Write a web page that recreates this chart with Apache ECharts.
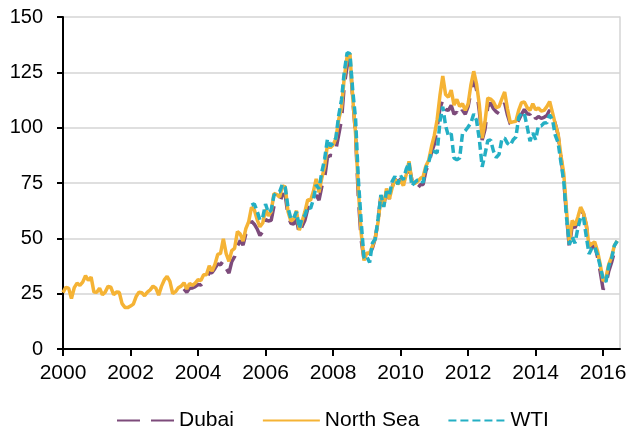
<!DOCTYPE html>
<html>
<head>
<meta charset="utf-8">
<script src="https://cdn.jsdelivr.net/npm/echarts@6/dist/echarts.min.js"></script>
<style>html,body{margin:0;padding:0;background:#fff}#c{width:640px;height:438px}</style>
</head>
<body>
<div id="c"></div>
<script>
// Monthly averages, US$ per barrel
var seriesNames = ['Dubai', 'North Sea', 'WTI'];
var yTicks = [0, 25, 50, 75, 100, 125, 150];
var xTickYears = [2000, 2002, 2004, 2006, 2008, 2010, 2012, 2014, 2016];

// North Sea: Jan 2000 – Jun 2016
var northSeaStart = [2000, 1];
var northSea = [
  25.5, 27.8, 27.5, 22.8, 27.7, 29.8, 28.7, 30.2, 33.1, 31.0, 32.5, 25.7,
  25.6, 27.5, 24.5, 25.7, 28.3, 27.9, 24.6, 25.7, 25.6, 20.5, 18.8, 18.7,
  19.4, 20.3, 23.7, 25.7, 25.4, 24.1, 25.7, 26.7, 28.4, 27.5, 24.3, 28.3,
  31.2, 32.8, 30.6, 25.0, 25.9, 27.7, 28.4, 29.9, 27.1, 29.6, 28.8, 29.8,
  31.3, 30.9, 33.6, 33.6, 37.6, 35.2, 38.2, 42.7, 43.2, 49.8, 43.1, 39.6,
  44.5, 45.5, 53.1, 51.9, 48.7, 54.4, 57.5, 64.0, 62.9, 58.5, 55.2, 56.9,
  63.0, 60.2, 62.1, 70.3, 69.8, 68.6, 73.7, 73.2, 62.0, 57.8, 58.8, 62.5,
  53.7, 57.6, 62.1, 67.5, 67.2, 71.1, 76.9, 70.8, 77.2, 82.3, 92.4, 90.9,
  92.2, 95.0, 103.6, 109.1, 122.8, 132.3, 133.5, 113.2, 97.2, 71.6, 52.5, 40.0,
  43.4, 43.3, 46.5, 50.2, 57.3, 68.6, 64.4, 72.5, 67.7, 72.8, 76.7, 74.5,
  76.2, 73.8, 78.8, 84.8, 76.0, 74.8, 75.6, 77.0, 77.8, 82.7, 85.3, 91.5,
  96.5, 103.7, 114.6, 123.3, 115.0, 113.8, 117.0, 110.2, 112.8, 109.6, 110.8, 107.9,
  110.7, 119.3, 125.5, 119.8, 110.3, 95.2, 102.6, 113.4, 112.9, 111.7, 109.1, 109.5,
  113.0, 116.1, 108.5, 102.3, 102.6, 102.9, 107.9, 111.3, 111.6, 109.1, 107.8, 110.8,
  108.1, 108.9, 107.5, 107.8, 109.5, 111.8, 106.8, 101.6, 97.1, 87.4, 79.4, 62.3,
  47.8, 58.1, 55.9, 59.5, 64.1, 61.5, 56.6, 46.5, 47.6, 48.4, 44.3, 38.0,
  30.7, 32.2, 38.2, 41.6, 46.7, 48.9
];

// Dubai: Aug 2003 – Jun 2016
var dubaiStart = [2003, 8];
var dubai = [
  27.2, 25.6, 27.4, 27.6, 28.2,
  29.1, 28.9, 30.3, 31.3, 34.6, 34.5, 36.4, 38.5, 38.0, 40.0, 36.4, 34.3,
  39.5, 41.7, 46.5, 49.0, 46.9, 52.0, 53.4, 57.7, 56.4, 54.3, 51.3, 53.0,
  58.5, 57.8, 58.1, 64.6, 65.3, 65.6, 69.9, 69.6, 60.2, 56.8, 56.4, 58.8,
  52.0, 55.4, 58.2, 63.3, 64.5, 65.7, 69.5, 67.3, 73.4, 77.2, 86.6, 87.5,
  87.3, 90.0, 96.7, 103.5, 119.4, 127.8, 131.2, 112.9, 96.7, 68.0, 49.2, 40.5,
  43.9, 43.1, 45.6, 50.0, 57.9, 69.4, 64.8, 71.4, 67.8, 73.2, 76.7, 75.5,
  76.7, 74.2, 76.9, 82.8, 76.5, 74.2, 72.6, 74.2, 74.3, 80.5, 83.3, 88.9,
  92.5, 100.1, 108.7, 112.5, 108.2, 107.8, 110.1, 106.1, 107.0, 104.8, 107.9, 106.1,
  109.5, 116.2, 122.5, 117.1, 107.3, 94.4, 99.1, 109.5, 111.2, 108.6, 107.2, 106.3,
  107.9, 111.1, 105.7, 101.7, 100.4, 101.2, 103.5, 106.1, 108.2, 106.3, 106.0, 107.9,
  104.0, 105.0, 104.2, 104.7, 105.5, 108.0, 105.5, 101.7, 96.6, 86.8, 76.4, 60.2,
  45.8, 55.8, 54.8, 57.6, 62.5, 61.3, 56.0, 47.3, 45.8, 46.8, 41.6, 34.7,
  26.9, 29.3, 35.2, 39.1, 43.8, 46.0
];

// WTI: Aug 2005 – Jun 2016
var wtiStart = [2005, 8];
var wti = [
  65.0, 65.6, 62.3, 58.3, 59.4,
  65.5, 61.6, 62.7, 69.4, 70.8, 71.0, 74.4, 73.0, 63.8, 58.9, 59.1, 62.0,
  54.5, 59.3, 60.4, 64.0, 63.5, 67.5, 74.1, 72.4, 79.9, 85.8, 94.8, 91.7,
  93.0, 95.4, 105.5, 112.6, 125.4, 133.9, 133.4, 116.7, 104.1, 76.6, 57.3, 41.1,
  41.7, 39.1, 47.9, 49.7, 59.0, 69.6, 64.2, 71.1, 69.4, 75.7, 78.0, 74.5,
  78.3, 76.4, 81.2, 84.3, 73.7, 75.3, 76.3, 76.6, 75.2, 81.9, 84.3, 89.2,
  89.2, 88.6, 102.9, 109.5, 100.9, 96.3, 97.3, 86.3, 85.5, 86.3, 97.2, 98.6,
  100.3, 102.2, 106.2, 103.3, 94.7, 82.3, 87.9, 94.1, 94.5, 89.5, 86.5, 87.9,
  94.8, 95.3, 92.9, 92.0, 94.5, 95.8, 104.7, 106.6, 106.3, 100.5, 93.9, 97.6,
  94.6, 100.8, 100.8, 102.1, 102.2, 105.8, 103.6, 96.5, 93.2, 84.4, 75.8, 59.3,
  47.2, 50.6, 47.8, 54.5, 59.3, 59.8, 50.9, 42.9, 45.5, 46.2, 42.4, 37.2,
  31.7, 30.3, 37.6, 40.8, 46.7, 48.8
];

// pair each monthly value with its date (year + fraction for month)
function monthly(start, values) {
  return values.map(function (v, i) {
    var m = start[1] - 1 + i;
    return [start[0] + Math.floor(m / 12) + (m % 12) / 12, v];
  });
}

var chart = echarts.init(document.getElementById('c'), null, {renderer: 'canvas'});
var font = 'Liberation Sans, Arial, sans-serif';
chart.setOption({
  animation: false,
  backgroundColor: '#ffffff',
  grid: {left: 63, right: 20, top: 17, bottom: 89, containLabel: false},
  legend: {
    data: seriesNames,
    left: 111,
    top: 405,
    itemWidth: 57,
    itemHeight: 14,
    itemGap: 28,
    itemStyle: {opacity: 0},
    textStyle: {fontFamily: font, fontSize: 21, color: '#000'}
  },
  xAxis: {
    type: 'value',
    min: xTickYears[0],
    max: 2016.5,
    interval: 2,
    axisLine: {show: true, onZero: false, lineStyle: {color: '#000', width: 2}},
    axisTick: {show: true, length: 7, inside: false, lineStyle: {color: '#000', width: 2}},
    axisLabel: {
      fontFamily: font, fontSize: 21, color: '#000', margin: 14,
      showMaxLabel: false,
      formatter: function (v) { return xTickYears.indexOf(v) >= 0 ? String(v) : ''; }
    },
    splitLine: {show: false}
  },
  yAxis: [{
    type: 'value',
    min: yTicks[0],
    max: yTicks[yTicks.length - 1],
    interval: 25,
    axisLine: {show: true, lineStyle: {color: '#000', width: 2}},
    axisTick: {show: true, length: 6, lineStyle: {color: '#000', width: 2}},
    axisLabel: {fontFamily: font, fontSize: 20, color: '#000', margin: 20},
    splitLine: {show: true, lineStyle: {color: '#d4d4d4', width: 1.5}}
  }, {
    type: 'value',
    position: 'right',
    min: yTicks[0],
    max: yTicks[yTicks.length - 1],
    interval: 25,
    axisLine: {show: true, lineStyle: {color: '#d4d4d4', width: 1.5}},
    axisTick: {show: false},
    axisLabel: {show: false},
    splitLine: {show: false}
  }],
  series: [{
    name: seriesNames[0],
    type: 'line',
    data: monthly(dubaiStart, dubai),
    showSymbol: false,
    symbol: 'none',
    color: '#7d4b7b',
    lineStyle: {color: '#7d4b7b', width: 3.5, type: [23, 11]},
    z: 2
  }, {
    name: seriesNames[1],
    type: 'line',
    data: monthly(northSeaStart, northSea),
    showSymbol: false,
    symbol: 'none',
    color: '#f5b335',
    lineStyle: {color: '#f5b335', width: 3.5},
    z: 3
  }, {
    name: seriesNames[2],
    type: 'line',
    data: monthly(wtiStart, wti),
    showSymbol: false,
    symbol: 'none',
    color: '#24afc4',
    lineStyle: {color: '#24afc4', width: 3.5, type: [8, 4]},
    z: 4
  }]
});
</script>
</body>
</html>
